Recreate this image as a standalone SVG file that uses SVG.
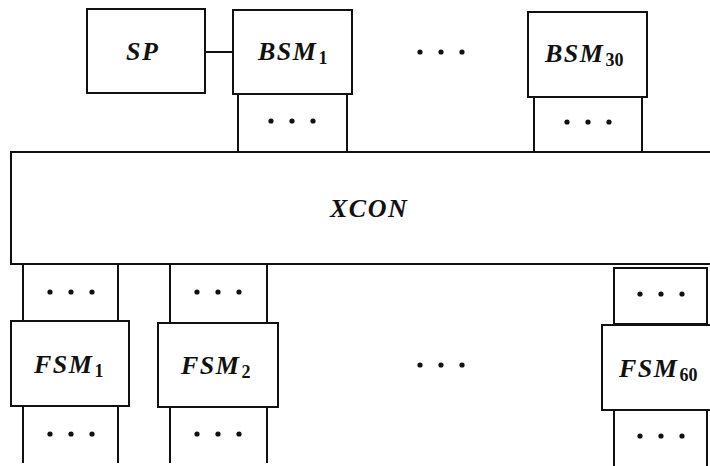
<svg xmlns="http://www.w3.org/2000/svg" width="710" height="466" viewBox="0 0 710 466">
<style>
.b{fill:#fff;stroke:#111;stroke-width:2}
.s{fill:none;stroke:#111;stroke-width:2}
.t{font-family:"Liberation Serif","Times New Roman",serif;font-style:italic;font-weight:bold;font-size:26px;letter-spacing:1.5px;fill:#111}
.sub{font-style:normal;font-size:18px;letter-spacing:0}
.d{fill:#111}
</style>
<defs>
<g id="dots"><circle cx="-21" cy="0" r="2.6" class="d"/><circle cx="0" cy="0" r="2.6" class="d"/><circle cx="21" cy="0" r="2.6" class="d"/></g>
</defs>
<rect width="710" height="466" fill="#fff"/>
<g id="connectors">
<line x1="205" y1="52" x2="233" y2="52" class="s"/>
</g>
<g id="xcon">
<rect x="11" y="152" width="710" height="112" class="b"/>
<text x="330" y="217" class="t" letter-spacing="2.5">XCON</text>
</g>
<g id="sp">
<rect x="87" y="9" width="118" height="84" class="b"/>
<text x="126" y="60" class="t">SP</text>
</g>
<g id="bsm1">
<rect x="238" y="94" width="109" height="58" class="b"/>
<use href="#dots" x="292" y="121"/>
<rect x="233" y="10" width="119" height="84" class="b"/>
<text x="258" y="60" class="t">BSM<tspan class="sub" dx="1" dy="4">1</tspan></text>
</g>
<g id="bsm-ellipsis">
<use href="#dots" x="441" y="52"/>
</g>
<g id="bsm30">
<rect x="534" y="97" width="108" height="55" class="b"/>
<use href="#dots" x="588" y="122"/>
<rect x="528" y="12" width="119" height="85" class="b"/>
<text x="545" y="62" class="t">BSM<tspan class="sub" dx="1" dy="4">30</tspan></text>
</g>
<g id="fsm1">
<rect x="23" y="264" width="95" height="57" class="b"/>
<use href="#dots" x="71" y="292"/>
<path d="M23 406V463M118 406V463" class="s"/>
<use href="#dots" x="71" y="434"/>
<rect x="11" y="321" width="118" height="85" class="b"/>
<text x="34" y="373" class="t">FSM<tspan class="sub" dx="1" dy="4">1</tspan></text>
</g>
<g id="fsm2">
<rect x="170" y="264" width="97" height="59" class="b"/>
<use href="#dots" x="218" y="292"/>
<path d="M170 407V463M267 407V463" class="s"/>
<use href="#dots" x="218" y="434"/>
<rect x="158" y="323" width="120" height="84" class="b"/>
<text x="181" y="374" class="t">FSM<tspan class="sub" dx="1" dy="4">2</tspan></text>
</g>
<g id="fsm-ellipsis">
<use href="#dots" x="441" y="365"/>
</g>
<g id="fsm60">
<rect x="614" y="268" width="93" height="56" class="b"/>
<use href="#dots" x="661" y="294"/>
<path d="M614 410V466M707 410V466" class="s"/>
<use href="#dots" x="661" y="436"/>
<rect x="602" y="325" width="120" height="85" class="b"/>
<text x="619" y="377" class="t">FSM<tspan class="sub" dx="1" dy="4">60</tspan></text>
</g>
</svg>
